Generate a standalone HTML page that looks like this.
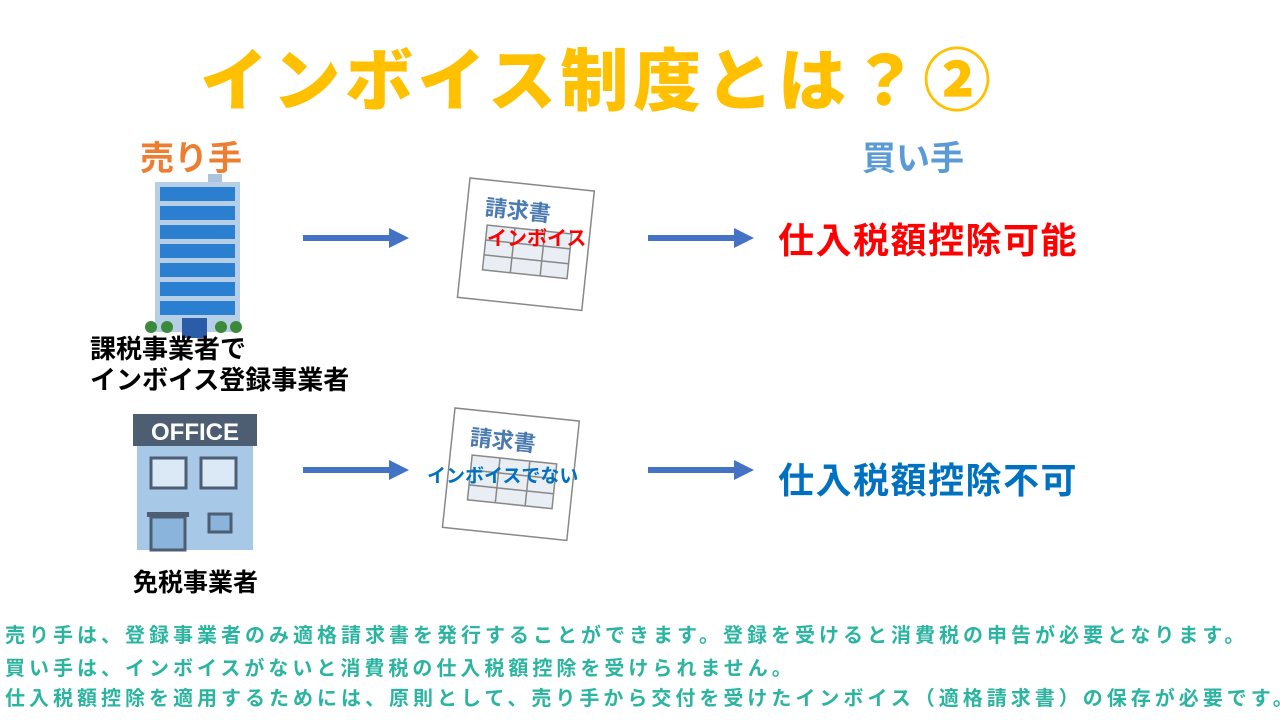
<!DOCTYPE html>
<html><head><meta charset="utf-8"><style>
body{margin:0;width:1280px;height:720px;background:#fff;position:relative;overflow:hidden;font-family:"Liberation Sans","Noto Sans CJK JP",sans-serif;font-weight:bold}
.a{position:absolute;white-space:nowrap}
.bt{color:#2bb5a0;font-size:20px;letter-spacing:4px;left:5px}
</style></head><body>
<div class="a" style="left:200px;top:26px;font-size:68px;color:#ffc000;font-weight:900;letter-spacing:4.5px">インボイス制度とは？②</div>
<div class="a" style="left:140px;top:131px;font-size:34px;color:#ed7d31">売り手</div>
<div class="a" style="left:862px;top:131px;font-size:34px;color:#5b9bd5">買い手</div>

<!-- building -->
<svg class="a" style="left:140px;top:172px" width="110" height="170">
<rect x="68" y="2" width="14" height="10" fill="#a9c4dc"/>
<rect x="15" y="10" width="85" height="150" fill="#b7cfe6"/>
<g fill="#2a7fd0">
<rect x="20" y="15" width="75" height="14"/><rect x="20" y="34" width="75" height="14"/><rect x="20" y="53" width="75" height="14"/><rect x="20" y="72" width="75" height="14"/><rect x="20" y="91" width="75" height="14"/><rect x="20" y="110" width="75" height="14"/><rect x="20" y="129" width="75" height="14"/></g>
<rect x="42" y="146" width="25" height="20" fill="#2a5ca8"/>
<g fill="#3a8a3a"><circle cx="11" cy="155" r="6"/><circle cx="27" cy="155" r="6"/><circle cx="81" cy="155" r="6"/><circle cx="96" cy="155" r="6"/></g>
</svg>
<div class="a" style="left:90px;top:334px;font-size:26px;color:#000;line-height:31px">課税事業者で<br>インボイス登録事業者</div>

<!-- office -->
<svg class="a" style="left:133px;top:414px" width="124" height="140">
<rect x="4" y="30" width="116" height="106" fill="#a8c8e8"/>
<rect x="0" y="0" width="124" height="32" fill="#4d5d72"/>
<text x="62" y="26" font-size="24" font-weight="bold" fill="#fff" text-anchor="middle" font-family="Liberation Sans">OFFICE</text>
<rect x="18" y="44" width="35" height="30" fill="#dbe9f6" stroke="#4d5d72" stroke-width="3"/>
<rect x="68" y="44" width="35" height="30" fill="#dbe9f6" stroke="#4d5d72" stroke-width="3"/>
<rect x="14" y="98" width="42" height="5" fill="#4d5d72"/>
<rect x="18" y="103" width="34" height="33" fill="#8ab4dc" stroke="#4d5d72" stroke-width="3"/>
<rect x="76" y="100" width="22" height="18" fill="#8ab4dc" stroke="#4d5d72" stroke-width="3"/>
</svg>
<div class="a" style="left:133px;top:563px;font-size:25px;color:#000">免税事業者</div>

<!-- arrows -->
<svg class="a" style="left:0;top:0" width="1280" height="720">
<g fill="#4472c4"><rect x="303" y="235" width="88" height="6"/><polygon points="389,228 409,238 389,248"/>
<rect x="303" y="467" width="88" height="6"/><polygon points="389,460 409,470 389,480"/>
<rect x="648" y="235" width="88" height="6"/><polygon points="734,228 754,238 734,248"/>
<rect x="648" y="467" width="88" height="6"/><polygon points="734,460 754,470 734,480"/></g>
<g transform="translate(470,178) rotate(6)" stroke="#888" fill="#fff" stroke-width="1.5">
<rect x="0" y="0" width="125" height="120"/>
<rect x="22" y="45" width="85" height="45" fill="#e8eef4"/>
<line x1="22" y1="60" x2="107" y2="60"/><line x1="22" y1="75" x2="107" y2="75"/><line x1="50" y1="45" x2="50" y2="90"/><line x1="80" y1="45" x2="80" y2="90"/>
<text x="18" y="35" font-size="22" fill="#4a7ab0" stroke="none" font-family="Noto Sans CJK JP">請求書</text></g>
<g transform="translate(455,408) rotate(6)" stroke="#888" fill="#fff" stroke-width="1.5">
<rect x="0" y="0" width="125" height="120"/>
<rect x="22" y="45" width="85" height="45" fill="#e8eef4"/>
<line x1="22" y1="60" x2="107" y2="60"/><line x1="22" y1="75" x2="107" y2="75"/><line x1="50" y1="45" x2="50" y2="90"/><line x1="80" y1="45" x2="80" y2="90"/>
<text x="18" y="35" font-size="22" fill="#4a7ab0" stroke="none" font-family="Noto Sans CJK JP">請求書</text></g>
</svg>
<div class="a" style="left:487px;top:222px;font-size:20px;color:#f00">インボイス</div>
<div class="a" style="left:427px;top:461px;font-size:19px;color:#0070c0">インボイスでない</div>

<div class="a" style="left:778px;top:212px;font-size:36px;color:#f00;letter-spacing:1.5px">仕入税額控除可能</div>
<div class="a" style="left:778px;top:452px;font-size:36px;color:#0070c0;letter-spacing:1.5px">仕入税額控除不可</div>

<div class="a bt" style="top:619px">売り手は、登録事業者のみ適格請求書を発行することができます。登録を受けると消費税の申告が必要となります。</div>
<div class="a bt" style="top:652px">買い手は、インボイスがないと消費税の仕入税額控除を受けられません。</div>
<div class="a bt" style="top:682px">仕入税額控除を適用するためには、原則として、売り手から交付を受けたインボイス（適格請求書）の保存が必要です。</div>
</body></html>
